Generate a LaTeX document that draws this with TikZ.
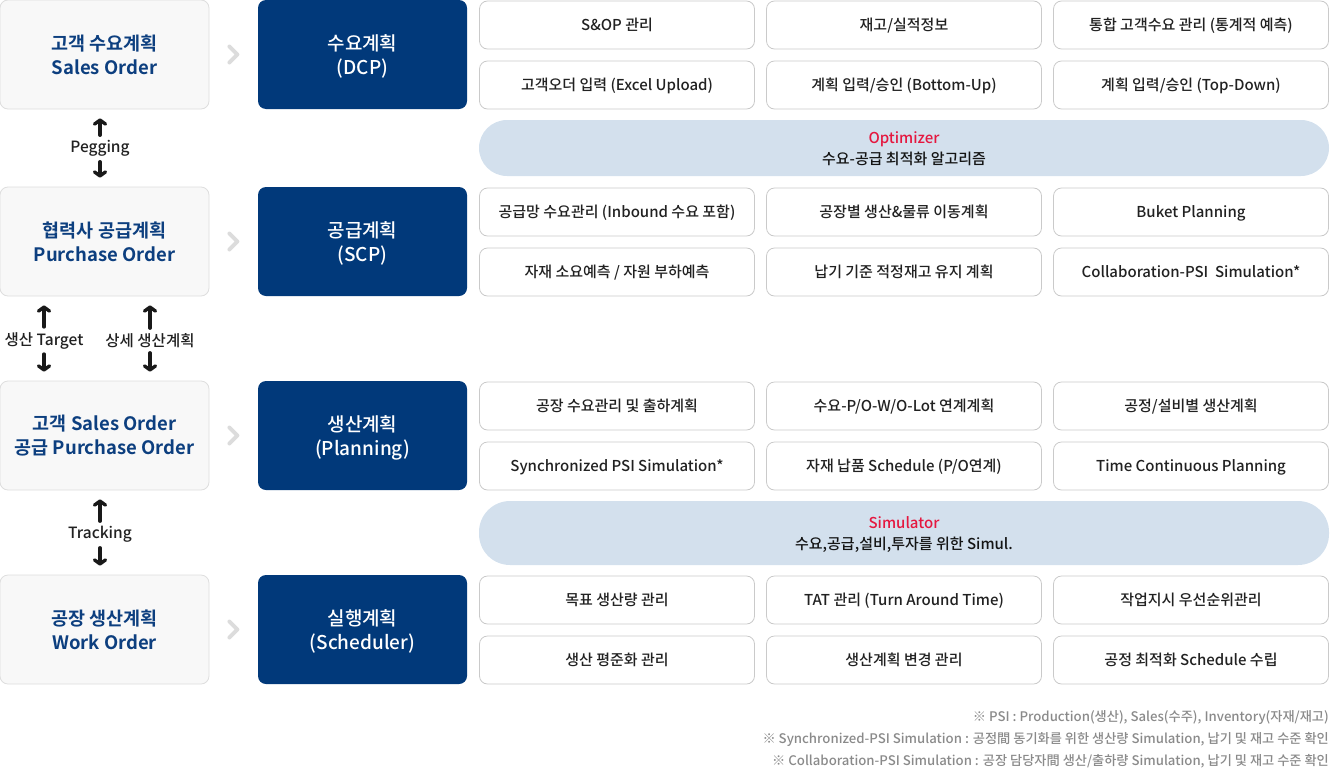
\documentclass[tikz,border=0pt]{standalone}
\usepackage{fontspec}
\setmainfont{Noto Sans CJK KR}[UprightFont=* Medium, BoldFont=* Bold]
\usepackage{tikz}
\usetikzlibrary{positioning,arrows.meta}
\definecolor{navy}{HTML}{01397A}
\definecolor{navytext}{HTML}{0D3F7F}
\definecolor{leftfill}{HTML}{F8F8F8}
\definecolor{leftline}{HTML}{DEDEDE}
\definecolor{cellline}{HTML}{CACACA}
\definecolor{pillfill}{HTML}{D3E0ED}
\definecolor{optred}{HTML}{E5173F}
\definecolor{chevgray}{HTML}{DCDCDC}
\definecolor{notegray}{HTML}{8A8A8A}

\begin{document}
\begin{tikzpicture}[x=1pt, y=-1pt,
    lbox/.style = {draw=leftline, fill=leftfill, rounded corners=8pt, line width=0.8pt,
        minimum width=209pt, minimum height=109pt, align=center, text=navytext,
        font=\fontsize{18.5}{24}\selectfont\bfseries},
    dbox/.style = {fill=navy, rounded corners=8pt, minimum width=209pt, minimum height=109pt,
        align=center, text=white, text depth=0pt, font=\fontsize{19}{24}\selectfont},
    cell/.style = {draw=cellline, fill=white, rounded corners=8pt, line width=0.8pt,
        minimum width=275pt, minimum height=48pt, text=black!87,
        text height=13.5pt, text depth=2pt, font=\fontsize{15}{18}\selectfont},
    pill/.style = {fill=pillfill, rounded corners=28pt, minimum width=850pt, align=center,
        text=black!92, text depth=-2pt, font=\fontsize{15}{21}\selectfont},
    tag/.style = {inner sep=2pt, text=black!87, font=\fontsize{15.5}{17}\selectfont},
    arr/.style = {-{Straight Barb[length=4pt, width=11pt, line width=3.4pt, round]},
        line width=3.4pt, black!90, line cap=round},
    chev/.style = {chevgray, line width=4pt, line cap=round, line join=round},
    note/.style = {anchor=east, inner sep=0pt, text=notegray, font=\fontsize{13.2}{15}\selectfont}]
    \useasboundingbox (0,0) rectangle (1330,771);
    % Left column
    \node[lbox] (so) at (104.5,54.5) {고객 수요계획\\Sales Order};
    \node[lbox] (po) at (104.5,241.5) {협력사 공급계획\\Purchase Order};
    \node[lbox] (sp) at (104.5,435.5) {고객 Sales Order\\공급 Purchase Order};
    \node[lbox] (wo) at (104.5,629.5) {공장 생산계획\\Work Order};
    % Plan boxes
    \node[dbox] (dcp) at (362.5,54.5) {수요계획\\(DCP)};
    \node[dbox] (scp) at (362.5,241.5) {공급계획\\(SCP)};
    \node[dbox] (pln) at (362.5,435.5) {생산계획\\(Planning)};
    \node[dbox] (sch) at (362.5,629.5) {실행계획\\(Scheduler)};
    % Cells: DCP
    \node[cell] (d1) at (617,25) {S\&OP 관리};
    \node[cell] (d2) at (904,25) {재고/실적정보};
    \node[cell] (d3) at (1191,25) {통합 고객수요 관리 (통계적 예측)};
    \node[cell] (d4) at (617,85) {고객오더 입력 (Excel Upload)};
    \node[cell] (d5) at (904,85) {계획 입력/승인 (Bottom-Up)};
    \node[cell] (d6) at (1191,85) {계획 입력/승인 (Top-Down)};
    % Optimizer
    \node[pill, minimum height=56pt] (opt) at (904,148) {{\color{optred}Optimizer}\\수요-공급 최적화 알고리즘};
    % Cells: SCP
    \node[cell] (s1) at (617,212) {공급망 수요관리 (Inbound 수요 포함)};
    \node[cell] (s2) at (904,212) {공장별 생산\&물류 이동계획};
    \node[cell] (s3) at (1191,212) {Buket Planning};
    \node[cell] (s4) at (617,272) {자재 소요예측 / 자원 부하예측};
    \node[cell] (s5) at (904,272) {납기 기준 적정재고 유지 계획};
    \node[cell] (s6) at (1191,272) {Collaboration-PSI\ \ Simulation*};
    % Cells: Planning
    \node[cell] (p1) at (617,406) {공장 수요관리 및 출하계획};
    \node[cell] (p2) at (904,406) {수요-P/O-W/O-Lot 연계계획};
    \node[cell] (p3) at (1191,406) {공정/설비별 생산계획};
    \node[cell] (p4) at (617,466) {Synchronized PSI Simulation*};
    \node[cell] (p5) at (904,466) {자재 납품 Schedule (P/O연계)};
    \node[cell] (p6) at (1191,466) {Time Continuous Planning};
    % Simulator
    \node[pill, minimum height=64pt, rounded corners=31pt] (sim) at (904,533) {{\color{optred}Simulator}\\수요,공급,설비,투자를 위한 Simul.};
    % Cells: Scheduler
    \node[cell] (e1) at (617,600) {목표 생산량 관리};
    \node[cell] (e2) at (904,600) {TAT 관리 (Turn Around Time)};
    \node[cell] (e3) at (1191,600) {작업지시 우선순위관리};
    \node[cell] (e4) at (617,660) {생산 평준화 관리};
    \node[cell] (e5) at (904,660) {생산계획 변경 관리};
    \node[cell] (e6) at (1191,660) {공정 최적화 Schedule 수립};
    % Link labels
    \node[tag] (peg) at (100,148.5) {Pegging};
    \node[tag] (tgt) at (44,340.5) {생산 Target};
    \node[tag] (det) at (150,340.5) {상세 생산계획};
    \node[tag] (trk) at (100,534.5) {Tracking};
    % Edges
    \draw[arr, shorten <=3pt, shorten >=9pt] (peg.north) -- (peg |- so.south);
    \draw[arr, shorten <=3pt, shorten >=9pt] (peg.south) -- (peg |- po.north);
    \draw[arr, shorten <=3pt, shorten >=9pt] (tgt.north) -- (tgt |- po.south);
    \draw[arr, shorten <=3pt, shorten >=9pt] (tgt.south) -- (tgt |- sp.north);
    \draw[arr, shorten <=3pt, shorten >=9pt] (det.north) -- (det |- po.south);
    \draw[arr, shorten <=3pt, shorten >=9pt] (det.south) -- (det |- sp.north);
    \draw[arr, shorten <=3pt, shorten >=9pt] (trk.north) -- (trk |- sp.south);
    \draw[arr, shorten <=3pt, shorten >=9pt] (trk.south) -- (trk |- wo.north);
    % Chevrons
    \draw[chev] (so.east) ++(20,-8) -- ++(8,8) -- ++(-8,8);
    \draw[chev] (po.east) ++(20,-8) -- ++(8,8) -- ++(-8,8);
    \draw[chev] (sp.east) ++(20,-8) -- ++(8,8) -- ++(-8,8);
    \draw[chev] (wo.east) ++(20,-8) -- ++(8,8) -- ++(-8,8);
    % Notes
    \node[note] (n1) at (1329,717.5) {※ PSI : Production(생산), Sales(수주), Inventory(자재/재고)};
    \node[note] (n2) at (1329,739.5) {※ Synchronized-PSI Simulation : 공정間 동기화를 위한 생산량 Simulation, 납기 및 재고 수준 확인};
    \node[note] (n3) at (1329,761.5) {※ Collaboration-PSI Simulation : 공장 담당자間 생산/출하량 Simulation, 납기 및 재고 수준 확인};
\end{tikzpicture}
\end{document}
